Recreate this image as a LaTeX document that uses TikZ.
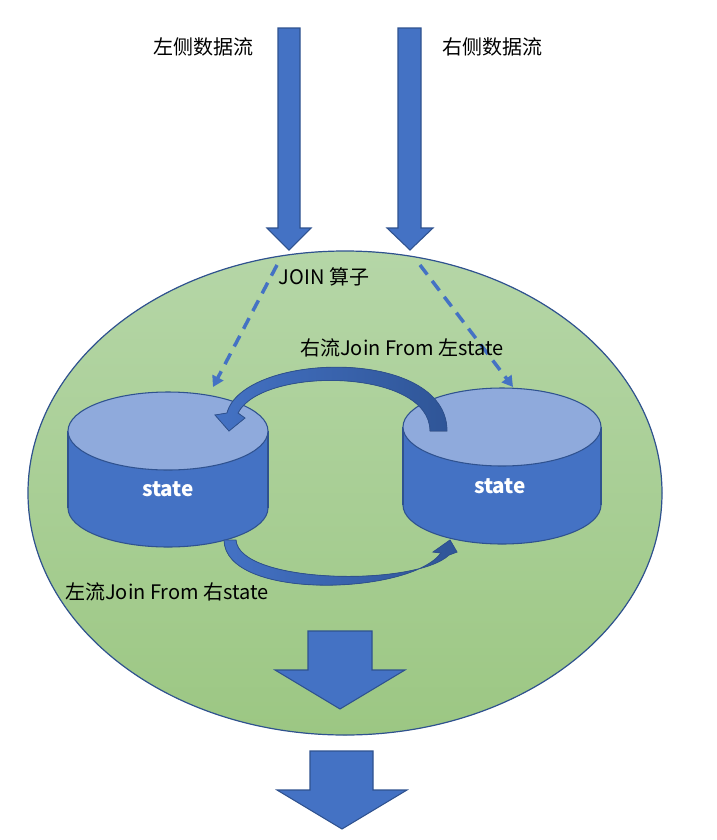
\documentclass[tikz,border=0pt]{standalone}
\usepackage{fontspec}
\setmainfont{Noto Sans CJK SC}
\usetikzlibrary{arrows.meta}

\definecolor{arrowblue}{HTML}{4472C4}
\definecolor{edgeblue}{HTML}{2F528F}
\definecolor{darkblue}{HTML}{2F5597}
\definecolor{cyltop}{HTML}{8FAADC}
\definecolor{greentop}{HTML}{B5D6A7}
\definecolor{greenbottom}{HTML}{9CC783}

\begin{document}
\begin{tikzpicture}[x=0.75pt, y=-0.75pt,
	blockarrow/.style={fill=arrowblue, draw=edgeblue, line width=0.8pt, line join=miter},
	bendarrow/.style={left color=arrowblue, right color=darkblue, draw=edgeblue, line width=0.6pt},
	dashflow/.style={draw=arrowblue, line width=2.6pt, dash pattern=on 9pt off 6pt, -{Triangle[width=9pt, length=8pt]}},
	flowlabel/.style={font=\fontsize{15}{18}\selectfont, inner sep=0pt},
	statelabel/.style={font=\fontsize{15.5}{18}\selectfont\bfseries, text=white, inner sep=0pt}]
		\useasboundingbox (0,0) rectangle (717,840);
		\fill[white] (0,0) rectangle (717,840);

		% Draw the operator area
		\filldraw[top color=greentop, bottom color=greenbottom, draw=edgeblue, line width=0.9pt] (345,493) ellipse [x radius=317, y radius=242];

		% Draw the input streams
		\filldraw[blockarrow] (278,28) -- (300,28) -- (300,228) -- (311,228) -- (289,250) -- (267,228) -- (278,228) -- cycle;
		\filldraw[blockarrow] (398,28) -- (421,28) -- (421,228) -- (433,228) -- (410,250) -- (387,228) -- (398,228) -- cycle;
		\node[flowlabel] (leftin) at (203,47) {左侧数据流};
		\node[flowlabel] (rightin) at (492,47) {右侧数据流};
		\node[flowlabel] (join) at (324,277) {JOIN 算子};

		% Draw the left state
		\filldraw[fill=arrowblue, draw=edgeblue, line width=0.8pt] (168,508) ellipse [x radius=100, y radius=39];
		\fill[arrowblue] (68,431) rectangle (268,508);
		\draw[edgeblue, line width=0.8pt] (68,431) -- (68,508) (268,431) -- (268,508);
		\filldraw[fill=cyltop, draw=edgeblue, line width=0.8pt] (168,431) ellipse [x radius=100, y radius=39];
		\node[statelabel] (lstate) at (168,489) {state};

		% Draw the right state
		\filldraw[fill=arrowblue, draw=edgeblue, line width=0.8pt] (502,505) ellipse [x radius=99, y radius=39];
		\fill[arrowblue] (403,427) rectangle (601,505);
		\draw[edgeblue, line width=0.8pt] (403,427) -- (403,505) (601,427) -- (601,505);
		\filldraw[fill=cyltop, draw=edgeblue, line width=0.8pt] (502,427) ellipse [x radius=99, y radius=39];
		\node[statelabel] (rstate) at (500,486) {state};

		% Streams go into the states
		\coordinate (lfrom) at (277,265);
		\coordinate (lto) at (213,387);
		\coordinate (rfrom) at (420,265);
		\coordinate (rto) at (513,387);
		\draw[dashflow] (lfrom) -- (lto);
		\draw[dashflow] (rfrom) -- (rto);

		% Right stream joins the left state
		\filldraw[bendarrow] (430,431) .. controls (430,368) and (262,366) .. (238,413) -- (245,418) -- (229,431) -- (215,415) -- (227,413) .. controls (243,352) and (447,346) .. (447,431) -- cycle;
		\node[flowlabel] (rjoin) at (402,348) {右流Join From 左state};

		% Left stream joins the right state
		\filldraw[bendarrow] (224,540) .. controls (225,601) and (410,595) .. (441,553) -- (433,552) -- (450,540) -- (457,552) -- (449,555) .. controls (415,587) and (239,584) .. (236,540) -- cycle;
		\node[flowlabel] (ljoin) at (167,592) {左流Join From 右state};

		% Draw the output
		\filldraw[blockarrow] (308,631) -- (372,631) -- (372,670) -- (405,670) -- (340,709) -- (275,670) -- (308,670) -- cycle;
		\filldraw[blockarrow] (310,751) -- (373,751) -- (373,790) -- (407,790) -- (342,829) -- (277,790) -- (310,790) -- cycle;

	\end{tikzpicture}
\end{document}
